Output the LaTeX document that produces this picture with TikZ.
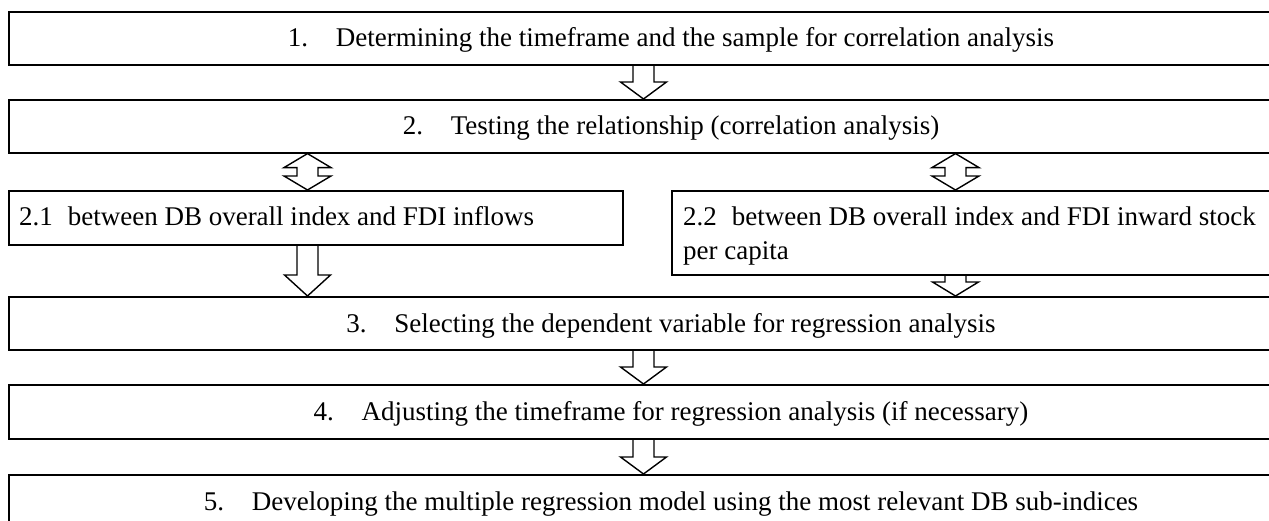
\documentclass[tikz,border=0pt]{standalone}
\usepackage{fontspec}
\setmainfont{Liberation Serif}
\usetikzlibrary{calc}
\newcommand{\itemnum}[1]{\makebox[48pt][l]{#1}}
\begin{document}
\begin{tikzpicture}[x=1pt,y=-1pt,
  box/.style={draw, line width=1.6pt, rectangle, inner sep=0pt, anchor=north west},
  lbl/.style={font=\fontsize{27}{33}\selectfont, inner sep=0pt},
  blk/.style={line width=1.4pt, line join=miter, to path={let \p1=(\tikztostart), \p2=(\tikztotarget) in
    (\x1-10.5pt,\y1) -- (\x1-10.5pt,\y2+#1) -- (\x1-23pt,\y2+#1) -- (\x1,\y2)
    -- (\x1+23pt,\y2+#1) -- (\x1+10.5pt,\y2+#1) -- (\x1+10.5pt,\y1)}},
  dblk/.style={line width=1.4pt, line join=miter, to path={let \p1=(\tikztostart), \p2=(\tikztotarget) in
    (\x1,\y1) -- (\x1+23.5pt,\y1-#1) -- (\x1+10.5pt,\y1-#1) -- (\x1+10.5pt,\y2+#1)
    -- (\x1+23.5pt,\y2+#1) -- (\x1,\y2) -- (\x1-23.5pt,\y2+#1) -- (\x1-10.5pt,\y2+#1)
    -- (\x1-10.5pt,\y1-#1) -- (\x1-23.5pt,\y1-#1) -- cycle}}
]
\useasboundingbox (0,0) rectangle (1269,521);
\clip (0,0) rectangle (1269,521);
\fill[white] (0,0) rectangle (1269,521);

% boxes
\node[box, minimum width=1326pt, minimum height=53pt] (b1) at (8,11) {};
\node[box, minimum width=1326pt, minimum height=53pt] (b2) at (8,99) {};
\node[box, minimum width=614pt, minimum height=54pt] (b21) at (8,190) {};
\node[box, minimum width=663pt, minimum height=84pt] (b22) at (671,190) {};
\node[box, minimum width=1326pt, minimum height=53pt] (b3) at (8,296) {};
\node[box, minimum width=1326pt, minimum height=54pt] (b4) at (8,384) {};
\node[box, minimum width=1326pt, minimum height=60pt] (b5) at (8,474) {};

% texts
\node[lbl, anchor=base] (t1) at (671,46.5) {\itemnum{1.}Determining the timeframe and the sample for correlation analysis};
\node[lbl, anchor=base] (t2) at (671,135) {\itemnum{2.}Testing the relationship (correlation analysis)};
\node[lbl, anchor=base west] (t21) at (19,226) {2.1\hspace{0.55em}between DB overall index and FDI inflows};
\node[lbl, anchor=base west] (t22) at (683,226) {2.2\hspace{0.55em}between DB overall index and FDI inward stock};
\node[lbl, anchor=base west] (t22b) at (683,260) {per capita};
\node[lbl, anchor=base] (t3) at (671,332) {\itemnum{3.}Selecting the dependent variable for regression analysis};
\node[lbl, anchor=base] (t4) at (671,420) {\itemnum{4.}Adjusting the timeframe for regression analysis (if necessary)};
\node[lbl, anchor=base] (t5) at (671,510) {\itemnum{5.}Developing the multiple regression model using the most relevant DB sub-indices};

% arrow x positions
\coordinate (xa) at (643.5,0);
\coordinate (xl) at (307.5,0);
\coordinate (xr) at (955.5,0);

\draw[blk=17pt] (b1.south -| xa) to (b2.north -| xa);
\draw[dblk=14pt] (b2.south -| xl) to (b21.north -| xl);
\draw[dblk=14pt] (b2.south -| xr) to (b22.north -| xr);
\draw[blk=21pt] (b21.south -| xl) to (b3.north -| xl);
\draw[blk=14pt] (b22.south -| xr) to (b3.north -| xr);
\draw[blk=17pt] (b3.south -| xa) to (b4.north -| xa);
\draw[blk=17pt] (b4.south -| xa) to (b5.north -| xa);
\end{tikzpicture}
\end{document}
